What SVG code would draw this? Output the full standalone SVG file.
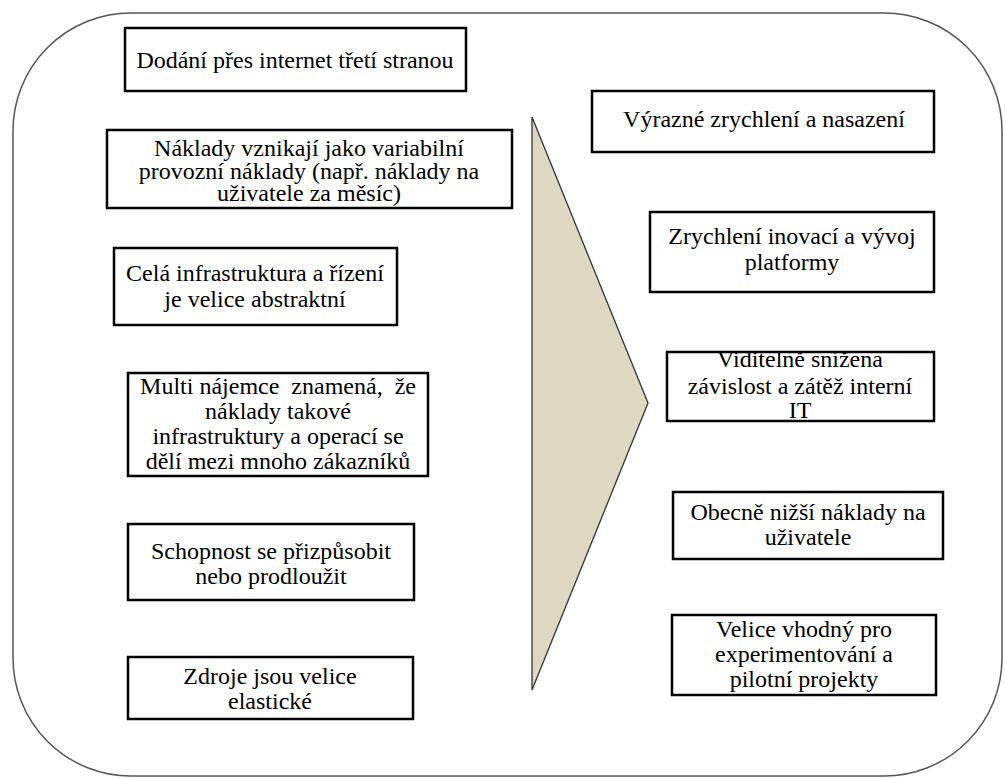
<svg xmlns="http://www.w3.org/2000/svg" width="1005" height="778" viewBox="0 0 1005 778">
<style>
.box{fill:#fff;stroke:#000;stroke-width:2.5}
.t{font-family:"Liberation Serif","Times New Roman",serif;font-size:24px;fill:#000;text-anchor:middle}
</style>
<rect width="1005" height="778" fill="#fff"/>
<g id="frame">
<rect x="13" y="13" width="989" height="763" rx="118" ry="118" fill="none" stroke="#555" stroke-width="1.5"/>
</g>
<g id="connectors">
<polygon points="532,117 648,403 532,690" fill="#DCD8C2" stroke="#333" stroke-width="1.3"/>
</g>
<g id="n1"><rect class="box" x="125" y="28" width="341" height="63"/><text class="t" x="295" y="68">Dodání přes internet třetí stranou</text></g>
<g id="n2"><rect class="box" x="107" y="130" width="405" height="78"/>
<text class="t" x="309" y="156">Náklady vznikají jako variabilní</text>
<text class="t" x="309" y="178.5">provozní náklady (např. náklady na</text>
<text class="t" x="309" y="201">uživatele za měsíc)</text></g>
<g id="n3"><rect class="box" x="114" y="248" width="283" height="77"/>
<text class="t" x="255" y="281">Celá infrastruktura a řízení</text>
<text class="t" x="255" y="307">je velice abstraktní</text></g>
<g id="n4"><rect class="box" x="128" y="373" width="300" height="103"/>
<text class="t" x="278" y="394" xml:space="preserve">Multi nájemce  znamená,  že</text>
<text class="t" x="278" y="419">náklady takové</text>
<text class="t" x="278" y="444">infrastruktury a operací se</text>
<text class="t" x="278" y="469">dělí mezi mnoho zákazníků</text></g>
<g id="n5"><rect class="box" x="128" y="524" width="286" height="76"/>
<text class="t" x="271" y="559">Schopnost se přizpůsobit</text>
<text class="t" x="271" y="584">nebo prodloužit</text></g>
<g id="n6"><rect class="box" x="128" y="657" width="285" height="62"/>
<text class="t" x="270" y="684">Zdroje jsou velice</text>
<text class="t" x="270" y="709">elastické</text></g>
<g id="r1"><rect class="box" x="592" y="91" width="342" height="61"/>
<text class="t" x="764" y="127">Výrazné zrychlení a nasazení</text></g>
<g id="r2"><rect class="box" x="650" y="212" width="284" height="80"/>
<text class="t" x="792" y="244">Zrychlení inovací a vývoj</text>
<text class="t" x="792" y="270">platformy</text></g>
<g id="r3"><rect class="box" x="667" y="352" width="267" height="69"/>
<text class="t" x="800" y="367">Viditelně snížena</text>
<text class="t" x="800" y="394">závislost a zátěž interní</text>
<text class="t" x="800" y="418">IT</text></g>
<g id="r4"><rect class="box" x="673" y="492" width="270" height="67"/>
<text class="t" x="808" y="520">Obecně nižší náklady na</text>
<text class="t" x="808" y="545">uživatele</text></g>
<g id="r5"><rect class="box" x="672" y="615" width="264" height="80"/>
<text class="t" x="804" y="637">Velice vhodný pro</text>
<text class="t" x="804" y="662">experimentování a</text>
<text class="t" x="804" y="687">pilotní projekty</text></g>
</svg>
